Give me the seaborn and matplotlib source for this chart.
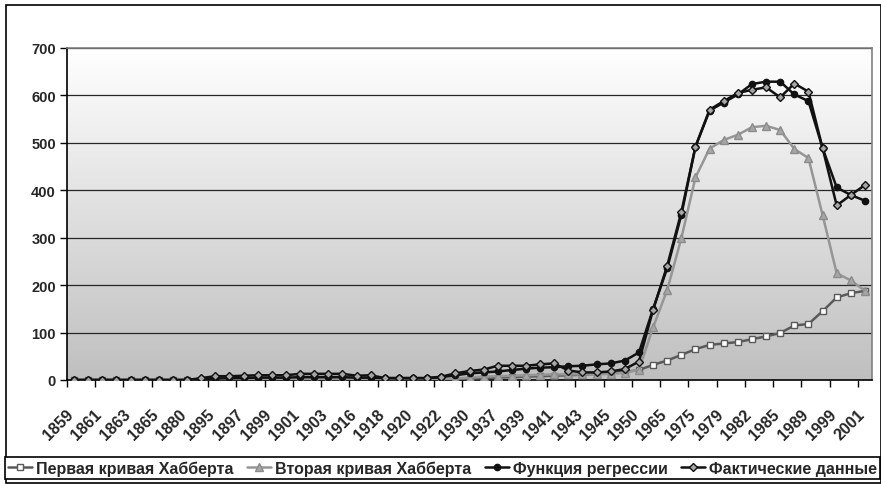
import matplotlib
matplotlib.use("Agg")
import matplotlib.pyplot as plt
import matplotlib.transforms as mtransforms
import numpy as np
import seaborn as sns
from matplotlib.patches import Rectangle

years = [1859, 1860, 1861, 1862, 1863, 1864, 1865, 1870, 1880, 1890,
         1895, 1896, 1897, 1898, 1899, 1900, 1901, 1902, 1903, 1910,
         1916, 1917, 1918, 1919, 1920, 1921, 1922, 1925, 1930, 1935,
         1937, 1938, 1939, 1940, 1941, 1942, 1943, 1944, 1945, 1946,
         1950, 1960, 1965, 1970, 1975, 1977, 1979, 1980, 1982, 1983,
         1985, 1987, 1989, 1995, 1999, 2000, 2001]

first_hubbert = [0, 0, 0, 0, 0, 0, 0, 0, 0, 0,
                 0, 0, 0, 0, 0, 0, 0, 0, 0, 0,
                 1, 1, 1, 1, 1, 1, 1, 2, 3, 4,
                 5, 6, 7, 8, 9, 10, 11, 13, 15, 17,
                 21, 32, 41, 53, 65, 74, 77, 80, 86, 92,
                 99, 115, 118, 145, 174, 183, 188]

second_hubbert = [0, 0, 0, 0, 0, 0, 0, 0, 0, 0,
                  0, 0, 0, 0, 0, 0, 0, 0, 0, 0,
                  0, 0, 0, 0, 0, 0, 1, 3, 5, 7,
                  8, 9, 10, 11, 12, 12, 12, 12, 13, 15,
                  22, 111, 190, 299, 427, 488, 506, 517, 533, 536,
                  527, 487, 468, 348, 225, 210, 188]

regression = [0, 0, 0, 0, 0, 0, 0, 0, 0, 2,
              3, 4, 4, 5, 5, 5, 6, 6, 6, 6,
              5, 5, 4, 4, 4, 4, 6, 10, 14, 16,
              18, 21, 24, 26, 27, 29, 30, 33, 35, 41,
              58, 150, 236, 348, 492, 568, 585, 602, 624, 629,
              629, 602, 588, 489, 406, 390, 378]

actual = [0, 0, 0, 0, 0, 0, 0, 0, 0, 4,
          8, 8, 9, 10, 10, 10, 13, 13, 13, 13,
          9, 10, 4, 4, 4, 4, 7, 14, 19, 22,
          30, 30, 30, 33, 35, 20, 16, 16, 18, 23,
          39, 148, 241, 354, 492, 570, 588, 605, 612, 617,
          596, 625, 608, 489, 368, 390, 411]

series_names = ["Первая кривая Хабберта", "Вторая кривая Хабберта",
                "Функция регрессии", "Фактические данные"]

sns.set_style("white")
plt.rcParams["font.family"] = ["Liberation Sans", "DejaVu Sans"]
plt.rcParams["font.weight"] = "bold"

fig = plt.figure(figsize=(8.81, 4.85), dpi=100)
ax = fig.add_axes([67 / 881, 1 - 381 / 485, (872 - 67) / 881, (381 - 49) / 485])

x = np.arange(len(years))
n = len(years)

# gradient background of the plot area
grad = np.linspace(1.0, 0.75, 256)[:, None]
rgb = np.dstack([grad, grad, grad])
ax.imshow(rgb, extent=[-0.5, n - 0.5, 0, 700], aspect="auto", zorder=0)

for v in range(100, 701, 100):
    ax.axhline(v, color="#262626", lw=0.9, zorder=1)

styles = [
    dict(color="#5a5a5a", marker="s", markersize=5, markerfacecolor="white",
         markeredgecolor="#5a5a5a", markeredgewidth=1.0),
    dict(color="#969696", marker="^", markersize=6, markerfacecolor="#a6a6a6",
         markeredgecolor="#8c8c8c", markeredgewidth=1.0),
    dict(color="#111111", marker="o", markersize=4.5, markerfacecolor="#111111",
         markeredgecolor="#111111", markeredgewidth=1.0),
    dict(color="#111111", marker="D", markersize=4.5, markerfacecolor="#a6a6a6",
         markeredgecolor="#111111", markeredgewidth=1.0),
]
data = [first_hubbert, second_hubbert, regression, actual]

handles = []
for name, vals, st in zip(series_names, data, styles):
    sns.lineplot(x=x, y=vals, ax=ax, lw=1.8, zorder=3, **st)
    handles.append(ax.lines[-1])

ax.set_xlim(-0.5, n - 0.5)
ax.set_ylim(0, 700)
ax.set_yticks(range(0, 701, 100))
ax.tick_params(axis="y", direction="out", length=5, width=1, color="black",
               labelsize=10.5, pad=3, left=True)

ax.set_xticks(x[::2])
ax.set_xticklabels([str(y) for y in years[::2]], rotation=45, ha="right",
                   rotation_mode="anchor", fontsize=11.5, fontweight="bold")
ax.tick_params(axis="x", length=0, pad=19)
shift = mtransforms.ScaledTranslation(-8 / 100, 0, fig.dpi_scale_trans)
for lbl in ax.get_xticklabels():
    lbl.set_transform(lbl.get_transform() + shift)
ax.set_xticks(np.arange(-0.5, n, 2), minor=True)
ax.tick_params(axis="x", which="minor", direction="out", length=5, width=1,
               color="black", bottom=True)
for lbl in ax.get_yticklabels():
    lbl.set_fontweight("bold")

for side in ["top", "right"]:
    ax.spines[side].set_color("#808080")
    ax.spines[side].set_linewidth(1.2)
ax.spines["left"].set_color("black")
ax.spines["bottom"].set_color("black")
ax.spines["left"].set_linewidth(1.2)
ax.spines["bottom"].set_linewidth(1.2)
ax.set_xlabel("")
ax.set_ylabel("")

leg = fig.legend(handles, series_names, loc="center",
                 bbox_to_anchor=(5 / 881, 1 - 481 / 485, 875 / 881, 24 / 485),
                 ncol=4, mode="expand", frameon=True, fancybox=False,
                 edgecolor="black", framealpha=1, borderaxespad=0,
                 handlelength=1.5, handletextpad=0.25, columnspacing=0.3,
                 borderpad=0.2, prop={"weight": "bold", "size": 11.5})
leg.get_frame().set_linewidth(1.2)

fig.patches.append(Rectangle((6 / 881, 1 / 485), 875 / 881, 478 / 485,
                             transform=fig.transFigure, fill=False,
                             edgecolor="black", lw=1.2))

fig.savefig("out.png", dpi=100)
plt.close()
